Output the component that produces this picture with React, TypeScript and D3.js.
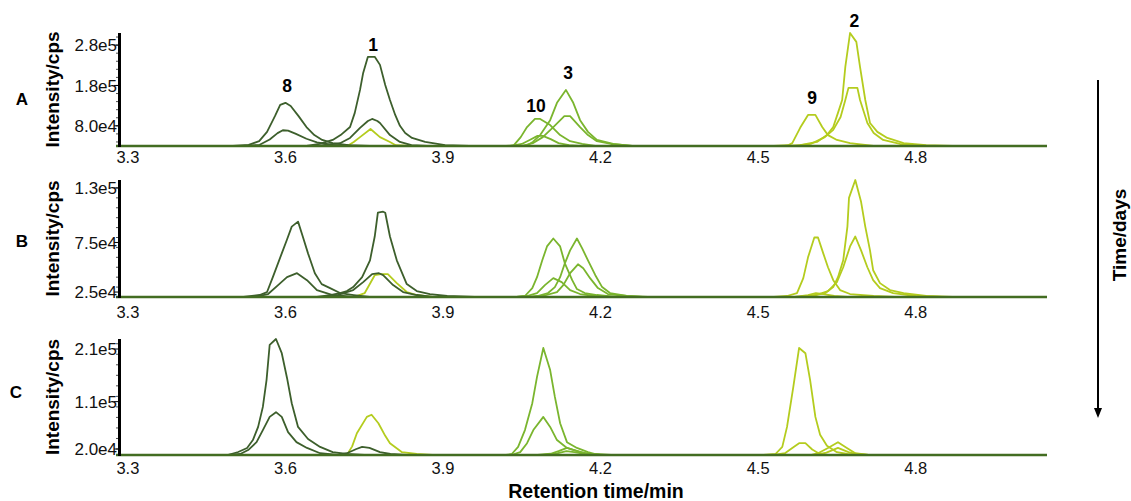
import * as d3 from "d3";

type Pt = [number, number];

// retention time axis
const xDomain: [number, number] = [3.285, 5.05];
const xTicks = [3.3, 3.6, 3.9, 4.2, 4.5, 4.8];

const dark = "#3d5f2c";
const mid = "#7ab52e";
const yel = "#b4cc1e";
const baseColor = "#436d22";

// ---------- panel A ----------
const a8hi: Pt[] = [[3.5, 3.0e4], [3.53, 3.3e4], [3.55, 4.2e4], [3.565, 6.5e4], [3.58, 1.04e5], [3.59, 1.32e5], [3.6, 1.37e5], [3.61, 1.29e5], [3.625, 1.04e5], [3.64, 7.7e4], [3.655, 5.7e4], [3.67, 4.5e4], [3.69, 3.7e4], [3.72, 3.2e4], [3.76, 3.0e4]];
const a8lo: Pt[] = [[3.52, 3.0e4], [3.551, 3.3e4], [3.57, 4.6e4], [3.585, 6.2e4], [3.595, 6.9e4], [3.605, 6.8e4], [3.62, 6.0e4], [3.64, 4.8e4], [3.66, 3.9e4], [3.69, 3.3e4], [3.73, 3.0e4]];
const a1hi: Pt[] = [[3.64, 3.0e4], [3.665, 3.5e4], [3.69, 4.5e4], [3.705, 5.7e4], [3.723, 7.7e4], [3.732, 1.12e5], [3.742, 1.69e5], [3.748, 2.11e5], [3.757, 2.51e5], [3.77, 2.51e5], [3.78, 2.31e5], [3.79, 1.81e5], [3.799, 1.44e5], [3.809, 1.07e5], [3.818, 8.0e4], [3.828, 6.2e4], [3.841, 5.0e4], [3.866, 4.0e4], [3.904, 3.2e4], [3.95, 3.0e4]];
const a1lo: Pt[] = [[3.66, 3.0e4], [3.704, 3.7e4], [3.723, 5.0e4], [3.742, 7.5e4], [3.757, 9.2e4], [3.765, 9.7e4], [3.775, 9.2e4], [3.78, 8.7e4], [3.799, 5.7e4], [3.818, 4.0e4], [3.84, 3.2e4], [3.87, 3.0e4]];
const a1yel: Pt[] = [[3.7, 3.0e4], [3.72, 3.2e4], [3.73, 4.0e4], [3.742, 5.2e4], [3.762, 7.2e4], [3.78, 5.2e4], [3.799, 4.0e4], [3.81, 3.2e4], [3.84, 3.0e4]];
const a10hi: Pt[] = [[4.02, 3.0e4], [4.035, 3.2e4], [4.048, 5.2e4], [4.06, 7.7e4], [4.075, 9.7e4], [4.085, 9.7e4], [4.104, 8.2e4], [4.123, 5.7e4], [4.142, 4.2e4], [4.165, 3.5e4], [4.19, 3.0e4]];
const a10lo: Pt[] = [[4.03, 3.0e4], [4.05, 3.5e4], [4.065, 4.5e4], [4.08, 5.5e4], [4.09, 5.5e4], [4.105, 4.7e4], [4.12, 3.7e4], [4.14, 3.2e4], [4.16, 3.0e4]];
const a3hi: Pt[] = [[4.05, 3.0e4], [4.06, 3.2e4], [4.071, 4.0e4], [4.085, 5.7e4], [4.104, 9.4e4], [4.117, 1.37e5], [4.134, 1.69e5], [4.148, 1.37e5], [4.161, 9.4e4], [4.176, 6.5e4], [4.193, 4.5e4], [4.224, 3.5e4], [4.26, 3.0e4]];
const a3lo: Pt[] = [[4.05, 3.0e4], [4.071, 3.7e4], [4.09, 5.2e4], [4.11, 7.7e4], [4.131, 1.04e5], [4.142, 1.04e5], [4.161, 7.7e4], [4.176, 5.7e4], [4.193, 4.2e4], [4.22, 3.5e4], [4.26, 3.0e4]];
const a9: Pt[] = [[4.53, 3.0e4], [4.557, 3.2e4], [4.565, 3.7e4], [4.58, 7.5e4], [4.595, 1.07e5], [4.609, 1.07e5], [4.622, 7.7e4], [4.633, 5.7e4], [4.65, 4.5e4], [4.675, 3.7e4], [4.72, 3.0e4]];
const a2hi: Pt[] = [[4.55, 3.0e4], [4.58, 3.2e4], [4.612, 4.0e4], [4.631, 5.7e4], [4.643, 7.7e4], [4.652, 1.12e5], [4.66, 1.44e5], [4.666, 2.26e5], [4.675, 3.1e5], [4.687, 2.88e5], [4.694, 2.26e5], [4.704, 1.44e5], [4.713, 8.7e4], [4.727, 6.5e4], [4.746, 5.0e4], [4.777, 3.7e4], [4.82, 3.2e4], [4.87, 3.0e4]];
const a2lo: Pt[] = [[4.57, 3.0e4], [4.6, 3.5e4], [4.627, 5.2e4], [4.643, 7.0e4], [4.657, 1.02e5], [4.666, 1.44e5], [4.672, 1.74e5], [4.689, 1.74e5], [4.694, 1.44e5], [4.708, 8.7e4], [4.72, 6.2e4], [4.738, 4.5e4], [4.77, 3.5e4], [4.82, 3.0e4]];

// ---------- panel B ----------
const b8hi: Pt[] = [[3.52, 2.0e4], [3.551, 2.2e4], [3.565, 2.5e4], [3.576, 4.0e4], [3.593, 6.4e4], [3.603, 7.8e4], [3.612, 9.1e4], [3.624, 9.6e4], [3.633, 8.1e4], [3.643, 6.4e4], [3.656, 4.4e4], [3.669, 3.3e4], [3.685, 2.9e4], [3.704, 2.4e4], [3.73, 2.2e4], [3.76, 2.0e4]];
const b8lo: Pt[] = [[3.54, 2.0e4], [3.567, 2.3e4], [3.586, 3.2e4], [3.603, 4.0e4], [3.622, 4.4e4], [3.641, 3.7e4], [3.66, 2.7e4], [3.69, 2.2e4], [3.73, 2.0e4]];
const b1hi: Pt[] = [[3.66, 2.0e4], [3.685, 2.2e4], [3.704, 2.4e4], [3.717, 2.6e4], [3.729, 3.0e4], [3.746, 4.0e4], [3.761, 5.7e4], [3.77, 8.1e4], [3.776, 1.05e5], [3.786, 1.06e5], [3.79, 1.05e5], [3.799, 8.1e4], [3.812, 5.7e4], [3.831, 3.3e4], [3.85, 2.6e4], [3.875, 2.3e4], [3.908, 2.1e4], [3.96, 2.0e4]];
const b1lo: Pt[] = [[3.68, 2.0e4], [3.7, 2.2e4], [3.729, 2.7e4], [3.748, 3.5e4], [3.765, 4.3e4], [3.778, 4.4e4], [3.786, 4.2e4], [3.805, 3.2e4], [3.824, 2.5e4], [3.85, 2.2e4], [3.88, 2.0e4]];
const b1yel: Pt[] = [[3.73, 2.0e4], [3.751, 2.4e4], [3.77, 4.2e4], [3.782, 4.3e4], [3.795, 4.3e4], [3.812, 3.4e4], [3.831, 2.5e4], [3.85, 2.2e4], [3.88, 2.0e4]];
const b10hi: Pt[] = [[4.04, 2.0e4], [4.056, 2.1e4], [4.07, 2.9e4], [4.079, 4.0e4], [4.089, 5.7e4], [4.098, 7.1e4], [4.11, 7.9e4], [4.123, 7.1e4], [4.132, 5.4e4], [4.146, 3.7e4], [4.155, 2.8e4], [4.17, 2.4e4], [4.193, 2.2e4], [4.23, 2.0e4]];
const b10lo: Pt[] = [[4.04, 2.0e4], [4.06, 2.1e4], [4.079, 2.4e4], [4.094, 3.2e4], [4.11, 3.9e4], [4.126, 3.5e4], [4.142, 2.7e4], [4.161, 2.3e4], [4.19, 2.1e4], [4.22, 2.0e4]];
const b3hi: Pt[] = [[4.06, 2.0e4], [4.08, 2.1e4], [4.1, 2.4e4], [4.113, 3.0e4], [4.123, 4.0e4], [4.132, 5.4e4], [4.142, 6.7e4], [4.155, 7.9e4], [4.165, 6.9e4], [4.176, 5.7e4], [4.19, 4.2e4], [4.203, 3.0e4], [4.218, 2.4e4], [4.25, 2.1e4], [4.29, 2.0e4]];
const b3lo: Pt[] = [[4.07, 2.0e4], [4.09, 2.1e4], [4.117, 2.5e4], [4.129, 3.2e4], [4.142, 4.4e4], [4.157, 5.3e4], [4.167, 4.9e4], [4.18, 3.9e4], [4.195, 2.9e4], [4.214, 2.3e4], [4.25, 2.1e4], [4.28, 2.0e4]];
const b9hi: Pt[] = [[4.53, 2.0e4], [4.555, 2.1e4], [4.574, 2.4e4], [4.586, 3.9e4], [4.595, 6.0e4], [4.607, 8.0e4], [4.614, 8.0e4], [4.624, 6.4e4], [4.633, 5.0e4], [4.643, 3.7e4], [4.656, 2.7e4], [4.675, 2.3e4], [4.72, 2.1e4], [4.76, 2.0e4]];
const b9lo: Pt[] = [[4.57, 2.0e4], [4.595, 2.2e4], [4.61, 2.4e4], [4.625, 2.3e4], [4.645, 2.1e4], [4.67, 2.0e4]];
const b2hi: Pt[] = [[4.57, 2.0e4], [4.6, 2.1e4], [4.628, 2.4e4], [4.643, 3.0e4], [4.652, 4.0e4], [4.662, 5.7e4], [4.67, 9.1e4], [4.673, 1.2e5], [4.685, 1.38e5], [4.696, 1.16e5], [4.704, 9.1e4], [4.713, 6.7e4], [4.719, 4.7e4], [4.732, 3.4e4], [4.751, 2.7e4], [4.777, 2.4e4], [4.82, 2.1e4], [4.87, 2.0e4]];
const b2lo: Pt[] = [[4.58, 2.0e4], [4.61, 2.2e4], [4.633, 2.6e4], [4.65, 3.5e4], [4.662, 5.0e4], [4.675, 7.1e4], [4.685, 8.1e4], [4.696, 6.7e4], [4.708, 5.0e4], [4.719, 3.7e4], [4.732, 2.9e4], [4.757, 2.4e4], [4.8, 2.1e4], [4.85, 2.0e4]];

// ---------- panel C ----------
const c8hi: Pt[] = [[3.49, 8.6e3], [3.51, 1.43e4], [3.527, 2.2e4], [3.538, 3.7e4], [3.548, 6.2e4], [3.557, 1.0e5], [3.564, 1.51e5], [3.57, 2.18e5], [3.582, 2.29e5], [3.593, 2.02e5], [3.603, 1.55e5], [3.612, 1.07e5], [3.624, 6.2e4], [3.643, 3.9e4], [3.666, 2.4e4], [3.69, 1.4e4], [3.717, 1.05e4], [3.75, 8.6e3]];
const c8lo: Pt[] = [[3.49, 8.6e3], [3.514, 1.05e4], [3.529, 1.8e4], [3.545, 3.3e4], [3.557, 5.6e4], [3.57, 8.1e4], [3.582, 9.0e4], [3.593, 8.1e4], [3.605, 5.2e4], [3.621, 3.3e4], [3.641, 2.2e4], [3.666, 1.2e4], [3.7, 8.6e3]];
const c1dark: Pt[] = [[3.7, 8.6e3], [3.717, 1.2e4], [3.735, 2.0e4], [3.746, 2.4e4], [3.76, 2.2e4], [3.78, 1.4e4], [3.8, 1.05e4], [3.83, 8.6e3]];
const c1yel: Pt[] = [[3.717, 8.6e3], [3.727, 2.5e4], [3.736, 5.0e4], [3.755, 8.1e4], [3.764, 8.5e4], [3.777, 6.9e4], [3.79, 4.5e4], [3.799, 3.1e4], [3.822, 1.4e4], [3.85, 1.05e4], [3.88, 8.6e3]];
const c10hi: Pt[] = [[4.02, 8.6e3], [4.031, 1.05e4], [4.043, 2.4e4], [4.056, 5.6e4], [4.07, 1.07e5], [4.079, 1.57e5], [4.091, 2.12e5], [4.104, 1.7e5], [4.113, 1.19e5], [4.123, 6.9e4], [4.136, 3.3e4], [4.155, 2.2e4], [4.176, 1.4e4], [4.19, 1.05e4], [4.22, 8.6e3]];
const c10lo: Pt[] = [[4.03, 8.6e3], [4.047, 1.4e4], [4.06, 3.1e4], [4.072, 5.6e4], [4.091, 8.1e4], [4.104, 6.2e4], [4.117, 3.7e4], [4.136, 2.2e4], [4.161, 1.4e4], [4.19, 8.6e3]];
const c3hi: Pt[] = [[4.08, 8.6e3], [4.105, 1.1e4], [4.12, 1.6e4], [4.136, 2.2e4], [4.15, 1.8e4], [4.17, 1.2e4], [4.2, 8.6e3]];
const c3lo: Pt[] = [[4.09, 8.6e3], [4.115, 1.1e4], [4.135, 1.6e4], [4.15, 1.4e4], [4.175, 1.0e4], [4.2, 8.6e3]];
const c9hi: Pt[] = [[4.51, 8.6e3], [4.533, 1.05e4], [4.546, 2.4e4], [4.555, 6.2e4], [4.567, 1.38e5], [4.578, 2.12e5], [4.59, 2.02e5], [4.599, 1.51e5], [4.609, 8.1e4], [4.618, 4.7e4], [4.631, 2.6e4], [4.65, 1.4e4], [4.67, 1.05e4], [4.71, 8.6e3]];
const c9lo: Pt[] = [[4.53, 8.6e3], [4.551, 1.2e4], [4.565, 2.2e4], [4.578, 3.1e4], [4.59, 3.1e4], [4.603, 1.9e4], [4.615, 1.2e4], [4.63, 8.6e3]];
const c2hi: Pt[] = [[4.6, 8.6e3], [4.614, 1.2e4], [4.633, 2.2e4], [4.652, 3.3e4], [4.669, 2.2e4], [4.685, 1.2e4], [4.71, 8.6e3]];
const c2lo: Pt[] = [[4.61, 8.6e3], [4.63, 1.3e4], [4.652, 2.2e4], [4.672, 1.4e4], [4.69, 1.0e4], [4.71, 8.6e3]];

// peak labels in panel A (retention time, intensity of label baseline)
const peakLabels: { text: string; t: number; v: number }[] = [
  { text: "8", t: 3.603, v: 1.64e5 },
  { text: "1", t: 3.767, v: 2.65e5 },
  { text: "10", t: 4.077, v: 1.14e5 },
  { text: "3", t: 4.138, v: 1.96e5 },
  { text: "9", t: 4.603, v: 1.34e5 },
  { text: "2", t: 4.683, v: 3.25e5 },
];

interface Panel {
  letter: string;
  top: number;
  bottom: number;
  yDomain: [number, number];
  yTicks: number[];
  yTickLabels: string[];
  minorStep: number;
  xLabelY: number;
  letterX: number;
  letterY: number;
  traces: { color: string; points: Pt[] }[];
}

const panels: Panel[] = [
  {
    letter: "A",
    top: 33,
    bottom: 146,
    yDomain: [3.0e4, 3.1e5],
    yTicks: [8.0e4, 1.8e5, 2.8e5],
    yTickLabels: ["8.0e4", "1.8e5", "2.8e5"],
    minorStep: 2e4,
    xLabelY: 163,
    letterX: 22,
    letterY: 105,
    traces: [
      { color: yel, points: a9 }, { color: yel, points: a2lo }, { color: yel, points: a2hi }, { color: yel, points: a1yel },
      { color: mid, points: a10lo }, { color: mid, points: a3lo }, { color: mid, points: a10hi }, { color: mid, points: a3hi },
      { color: dark, points: a8lo }, { color: dark, points: a1lo }, { color: dark, points: a8hi }, { color: dark, points: a1hi },
    ],
  },
  {
    letter: "B",
    top: 180,
    bottom: 297,
    yDomain: [2.0e4, 1.38e5],
    yTicks: [2.5e4, 7.5e4, 1.3e5],
    yTickLabels: ["2.5e4", "7.5e4", "1.3e5"],
    minorStep: 1e4,
    xLabelY: 318,
    letterX: 22,
    letterY: 247,
    traces: [
      { color: yel, points: b9lo }, { color: yel, points: b9hi }, { color: yel, points: b2lo }, { color: yel, points: b2hi }, { color: yel, points: b1yel },
      { color: mid, points: b10lo }, { color: mid, points: b3lo }, { color: mid, points: b10hi }, { color: mid, points: b3hi },
      { color: dark, points: b8lo }, { color: dark, points: b1lo }, { color: dark, points: b8hi }, { color: dark, points: b1hi },
    ],
  },
  {
    letter: "C",
    top: 339,
    bottom: 455,
    yDomain: [8.6e3, 2.29e5],
    yTicks: [2.0e4, 1.1e5, 2.1e5],
    yTickLabels: ["2.0e4", "1.1e5", "2.1e5"],
    minorStep: 2e4,
    xLabelY: 474,
    letterX: 16,
    letterY: 398,
    traces: [
      { color: yel, points: c9lo }, { color: yel, points: c2lo }, { color: yel, points: c2hi }, { color: yel, points: c9hi }, { color: yel, points: c1yel },
      { color: mid, points: c3lo }, { color: mid, points: c3hi }, { color: mid, points: c10lo }, { color: mid, points: c10hi },
      { color: dark, points: c1dark }, { color: dark, points: c8lo }, { color: dark, points: c8hi },
    ],
  },
];

const width = 1131;
const height = 501;
const font = "Liberation Sans, Arial, Helvetica, sans-serif";

export default function App() {
  const x = d3.scaleLinear().domain(xDomain).range([120, 1047]);

  return (
    <div style={{ position: "absolute", left: 0, top: 0 }}>
      <svg width={width} height={height} style={{ display: "block", background: "#fff" }} fontFamily={font}>
        {panels.map((p) => {
          const y = d3.scaleLinear().domain(p.yDomain).range([p.bottom, p.top]);
          const base = p.yDomain[0];
          const line = d3
            .line<Pt>()
            .x((d) => x(d[0]))
            .y((d) => y(d[1]));
          const minor = d3.range(Math.ceil(p.yDomain[0] / p.minorStep) * p.minorStep, p.yDomain[1], p.minorStep);
          const mid = (p.top + p.bottom) / 2;
          return (
            <g key={p.letter}>
              {p.traces.map((tr, i) => (
                <path
                  key={i}
                  d={line([[xDomain[0], base], ...tr.points, [xDomain[1], base]]) ?? ""}
                  fill="none"
                  stroke={tr.color}
                  strokeWidth={1.8}
                  strokeLinejoin="round"
                />
              ))}
              <line x1={x(xDomain[0]) - 4} x2={x(xDomain[1])} y1={p.bottom} y2={p.bottom} stroke={baseColor} strokeWidth={2.6} />
              {/* y axis */}
              {minor.map((m) => (
                <line key={`m-${m}`} x1={116} x2={119} y1={y(m)} y2={y(m)} stroke="#222" strokeWidth={0.8} />
              ))}
              {p.yTicks.map((t, i) => (
                <g key={`t-${t}`}>
                  <line x1={114} x2={119} y1={y(t)} y2={y(t)} stroke="#000" strokeWidth={1} />
                  <text x={117} y={y(t)} dy="0.36em" textAnchor="end" fontSize={17} fill="#111">
                    {p.yTickLabels[i]}
                  </text>
                </g>
              ))}
              <line x1={119.5} x2={119.5} y1={p.top} y2={p.bottom + 1} stroke="#000" strokeWidth={3} />
              {xTicks.map((t) => (
                <text key={`x-${t}`} x={x(t)} y={p.xLabelY} textAnchor="middle" fontSize={16.5} fill="#111">
                  {t.toFixed(1)}
                </text>
              ))}
              <text
                transform={`translate(${59}, ${mid}) rotate(-90)`}
                textAnchor="middle"
                fontSize={19}
                fontWeight="bold"
                fill="#000"
              >
                Intensity/cps
              </text>
              <text x={p.letterX} y={p.letterY} textAnchor="middle" fontSize={17} fontWeight="bold" fill="#000">
                {p.letter}
              </text>
              {p.letter === "A" &&
                peakLabels.map((l) => (
                  <text key={l.text} x={x(l.t)} y={y(l.v)} textAnchor="middle" fontSize={17.5} fontWeight="bold" fill="#000">
                    {l.text}
                  </text>
                ))}
            </g>
          );
        })}
        <text x={596} y={498} textAnchor="middle" fontSize={19.5} fontWeight="bold" fill="#000">
          Retention time/min
        </text>
        <line x1={1098} x2={1098} y1={80} y2={410} stroke="#000" strokeWidth={2} />
        <path d="M1094,408 L1102,408 L1098,418 Z" fill="#000" />
        <text transform="translate(1126, 235) rotate(-90)" textAnchor="middle" fontSize={19} fontWeight="bold" fill="#000">
          Time/days
        </text>
      </svg>
    </div>
  );
}
